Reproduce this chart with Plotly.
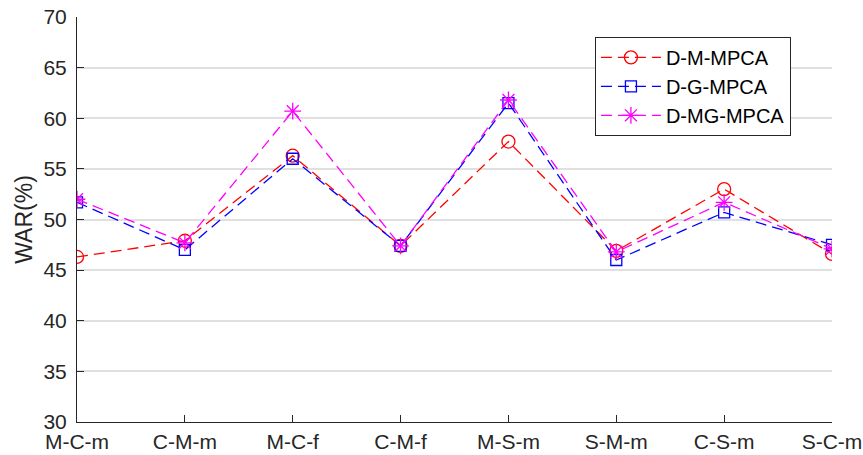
import plotly.graph_objects as go

categories = ["M-C-m", "C-M-m", "M-C-f", "C-M-f", "M-S-m", "S-M-m", "C-S-m", "S-C-m"]
d_m_mpca = [46.3, 47.9, 56.3, 47.4, 57.7, 46.9, 53.0, 46.6]
d_g_mpca = [51.7, 47.0, 56.0, 47.4, 61.5, 46.0, 50.7, 47.5]
d_mg_mpca = [52.0, 47.7, 60.7, 47.4, 61.8, 46.8, 51.7, 47.1]
y_ticks = [30, 35, 40, 45, 50, 55, 60, 65, 70]

x_idx = list(range(len(categories)))

fig = go.Figure()
series = [
    ("D-M-MPCA", d_m_mpca, "#ff0000", "circle-open", 13),
    ("D-G-MPCA", d_g_mpca, "#0000ff", "square-open", 11),
    ("D-MG-MPCA", d_mg_mpca, "#ff00ff", "asterisk-open", 14),
]
for name, vals, col, sym, sz in series:
    fig.add_trace(go.Scatter(
        x=x_idx, y=vals, name=name, mode="lines+markers",
        line=dict(color=col, width=1.3, dash="11px,6px"),
        marker=dict(symbol=sym, size=sz, color=col, line=dict(color=col, width=1.3)),
    ))

fig.update_layout(
    width=863, height=455,
    margin=dict(l=77, r=31, t=17, b=33),
    paper_bgcolor="white", plot_bgcolor="white",
    font=dict(family="Liberation Sans, Arial, sans-serif", size=21, color="#262626"),
    showlegend=True,
    legend=dict(
        x=0.686, y=0.951, xanchor="left", yanchor="top",
        bordercolor="#262626", borderwidth=1, bgcolor="white",
        font=dict(size=20, color="#000000"),
        tracegroupgap=0, itemwidth=60,
    ),
)
fig.update_xaxes(
    range=[0, 7], tickmode="array", tickvals=x_idx, ticktext=categories,
    showgrid=False, zeroline=False, showline=True, linecolor="#262626", linewidth=1,
    ticks="inside", ticklen=7, tickcolor="#262626", automargin=False,
    ticklabelstandoff=1,
)
fig.update_yaxes(
    range=[30, 70], tickmode="array", tickvals=y_ticks,
    showgrid=True, gridcolor="#e0e0e0", gridwidth=1.5, zeroline=False,
    showline=True, linecolor="#262626", linewidth=1,
    ticks="inside", ticklen=7, tickcolor="#262626", automargin=False,
    ticklabelstandoff=5,
    title=dict(text="WAR(%)", standoff=4, font=dict(size=23)),
)
fig.write_html("out.html")
